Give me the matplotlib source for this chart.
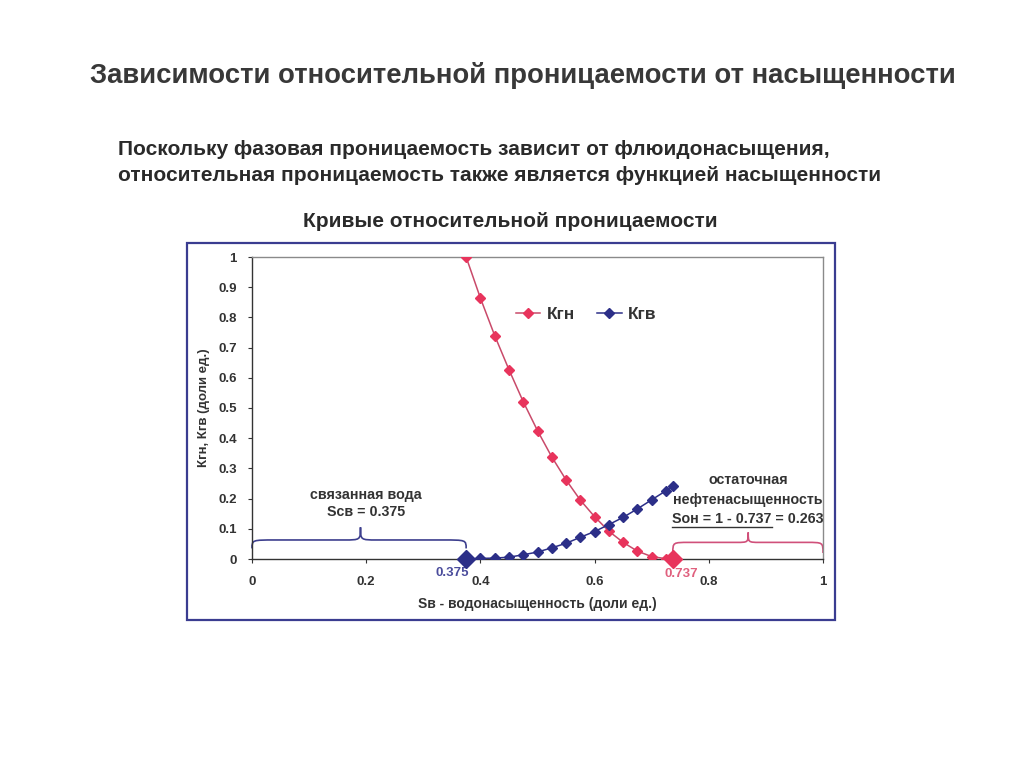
import matplotlib
matplotlib.use("Agg")
import matplotlib.pyplot as plt
from matplotlib.patches import Rectangle, PathPatch
from matplotlib.path import Path

# saturation points (water saturation, fraction)
sw = [0.375, 0.4, 0.425, 0.45, 0.475, 0.5, 0.525, 0.55, 0.575, 0.6,
      0.625, 0.65, 0.675, 0.7, 0.725, 0.737]
krn = [1.0, 0.864, 0.740, 0.627, 0.521, 0.425, 0.338, 0.262, 0.195, 0.140,
       0.092, 0.055, 0.026, 0.008, 0.001, 0.0]
krw = [0.0, 0.002, 0.003, 0.006, 0.014, 0.023, 0.037, 0.052, 0.072, 0.091,
       0.114, 0.138, 0.166, 0.196, 0.226, 0.243]
swc = 0.375
sw_max = 0.737

x_ticks = [0, 0.2, 0.4, 0.6, 0.8, 1]
x_ticklabels = ["0", "0.2", "0.4", "0.6", "0.8", "1"]
y_ticks = [0, 0.1, 0.2, 0.3, 0.4, 0.5, 0.6, 0.7, 0.8, 0.9, 1]
y_ticklabels = ["0", "0.1", "0.2", "0.3", "0.4", "0.5", "0.6", "0.7", "0.8", "0.9", "1"]

red = "#e8345c"
red_line = "#c94a6a"
blue = "#2c2f88"
grey_txt = "#383838"
txt = "#333333"

plt.rcParams["font.family"] = ["Liberation Sans", "DejaVu Sans"]

fig = plt.figure(figsize=(10.24, 7.67), dpi=100)
fig.patch.set_facecolor("white")

# headings
fig.text(0.511, 0.901, "Зависимости относительной проницаемости от насыщенности",
         ha="center", va="center", fontsize=19.8, fontweight="bold", color=grey_txt)
fig.text(0.115, 0.805, "Поскольку фазовая проницаемость зависит от флюидонасыщения,",
         ha="left", va="center", fontsize=15, fontweight="bold", color="#2a2a2a")
fig.text(0.115, 0.771, "относительная проницаемость также является функцией насыщенности",
         ha="left", va="center", fontsize=15, fontweight="bold", color="#2a2a2a")
fig.text(0.498, 0.711, "Кривые относительной проницаемости",
         ha="center", va="center", fontsize=15, fontweight="bold", color="#2a2a2a")

# outer blue frame around the chart
fig.patches.append(Rectangle((187 / 1024, 1 - 620 / 767), (835 - 187) / 1024,
                             (620 - 243) / 767, transform=fig.transFigure,
                             fill=False, edgecolor="#3a3c90", lw=1.6))

ax = fig.add_axes([252 / 1024, 1 - 559 / 767, 571 / 1024, 302 / 767])
ax.set_xlim(0, 1)
ax.set_ylim(0, 1)

ax.plot(sw, krn, color=red_line, lw=1.1, marker="D", ms=5,
        mfc=red, mec=red, label="Кгн", zorder=3)
ax.plot(sw, krw, color=blue, lw=1.1, marker="D", ms=5,
        mfc=blue, mec=blue, label="Кгв", zorder=3)
# end points emphasised
ax.plot([swc], [krw[0]], marker="D", ms=9, color=blue, zorder=4, clip_on=False)
ax.plot([sw_max], [krn[-1]], marker="D", ms=9, color=red, zorder=4, clip_on=False)

ax.set_xticks(x_ticks)
ax.set_xticklabels(x_ticklabels)
ax.set_yticks(y_ticks)
ax.set_yticklabels(y_ticklabels)
ax.tick_params(labelsize=9.5, colors=txt, length=3, width=0.8, pad=8)
ax.tick_params(axis="x", pad=9)
for lab in ax.get_xticklabels() + ax.get_yticklabels():
    lab.set_fontweight("bold")

for s in ["top", "right"]:
    ax.spines[s].set_color("#8a8a8a")
    ax.spines[s].set_linewidth(1.0)
for s in ["left", "bottom"]:
    ax.spines[s].set_color(txt)
    ax.spines[s].set_linewidth(1.0)

ax.set_xlabel("Sв - водонасыщенность (доли ед.)", fontsize=10,
              fontweight="bold", color=txt, labelpad=7)
ax.set_ylabel("Кгн, Кгв (доли ед.)", fontsize=9.5, fontweight="bold",
              color=txt, labelpad=6)

leg = ax.legend(loc="center left", bbox_to_anchor=(0.435, 0.81), ncol=2,
                frameon=False, fontsize=12.5, handlelength=1.4,
                columnspacing=1.3, handletextpad=0.35)
for t in leg.get_texts():
    t.set_fontweight("bold")
    t.set_color(txt)


def brace(x0, x1, xm, y_end, y_flat, y_tip, color):
    w = (x1 - x0)
    r = w * 0.11
    verts = [(x0, y_end),
             (x0, y_flat), (x0, y_flat), (x0 + r, y_flat),
             (xm - r * 0.7, y_flat),
             (xm, y_flat), (xm, y_flat), (xm, y_tip),
             (xm, y_flat), (xm, y_flat), (xm + r * 0.7, y_flat),
             (x1 - r, y_flat),
             (x1, y_flat), (x1, y_flat), (x1, y_end)]
    codes = [Path.MOVETO,
             Path.CURVE4, Path.CURVE4, Path.CURVE4,
             Path.LINETO,
             Path.CURVE4, Path.CURVE4, Path.CURVE4,
             Path.CURVE4, Path.CURVE4, Path.CURVE4,
             Path.LINETO,
             Path.CURVE4, Path.CURVE4, Path.CURVE4]
    ax.add_patch(PathPatch(Path(verts, codes), fill=False, edgecolor=color,
                           lw=1.2, zorder=2, clip_on=False))


brace(0.0, swc, 0.19, 0.035, 0.063, 0.105, "#3d3f8e")
brace(sw_max, 1.0, 0.869, 0.02, 0.055, 0.088, "#d0507a")

ann = dict(ha="center", va="center", fontsize=10.3, fontweight="bold", color=txt)
ax.text(0.2, 0.213, "связанная вода", **ann)
ax.text(0.2, 0.155, "Sсв = 0.375", **ann)

ax.text(0.87, 0.26, "остаточная", **ann)
ax.text(0.869, 0.197, "нефтенасыщенность", clip_on=False, **ann)
son = ax.text(0.869, 0.134, "Sон = 1 - 0.737 = 0.263", **ann)

ax.text(0.35, -0.045, "0.375", ha="center", va="center", fontsize=9.5,
        fontweight="bold", color="#4a4c9c")
ax.text(0.752, -0.05, "0.737", ha="center", va="center", fontsize=9.5,
        fontweight="bold", color="#e0607e")

# underline the first part of the residual oil saturation formula
fig.canvas.draw()
r = fig.canvas.get_renderer()
bb = son.get_window_extent(r)
tmp = ax.text(0, 0, "Sон = 1 - 0.737", fontsize=10.3, fontweight="bold")
sub_w = tmp.get_window_extent(r).width
tmp.remove()
inv = ax.transData.inverted()
(ux0, uy), (ux1, _) = inv.transform([(bb.x0, bb.y0 - 1), (bb.x0 + sub_w, bb.y0 - 1)])
ax.plot([ux0, ux1], [uy, uy], color=txt, lw=1.0, clip_on=False)

fig.savefig("out.png", dpi=100, facecolor="white")
